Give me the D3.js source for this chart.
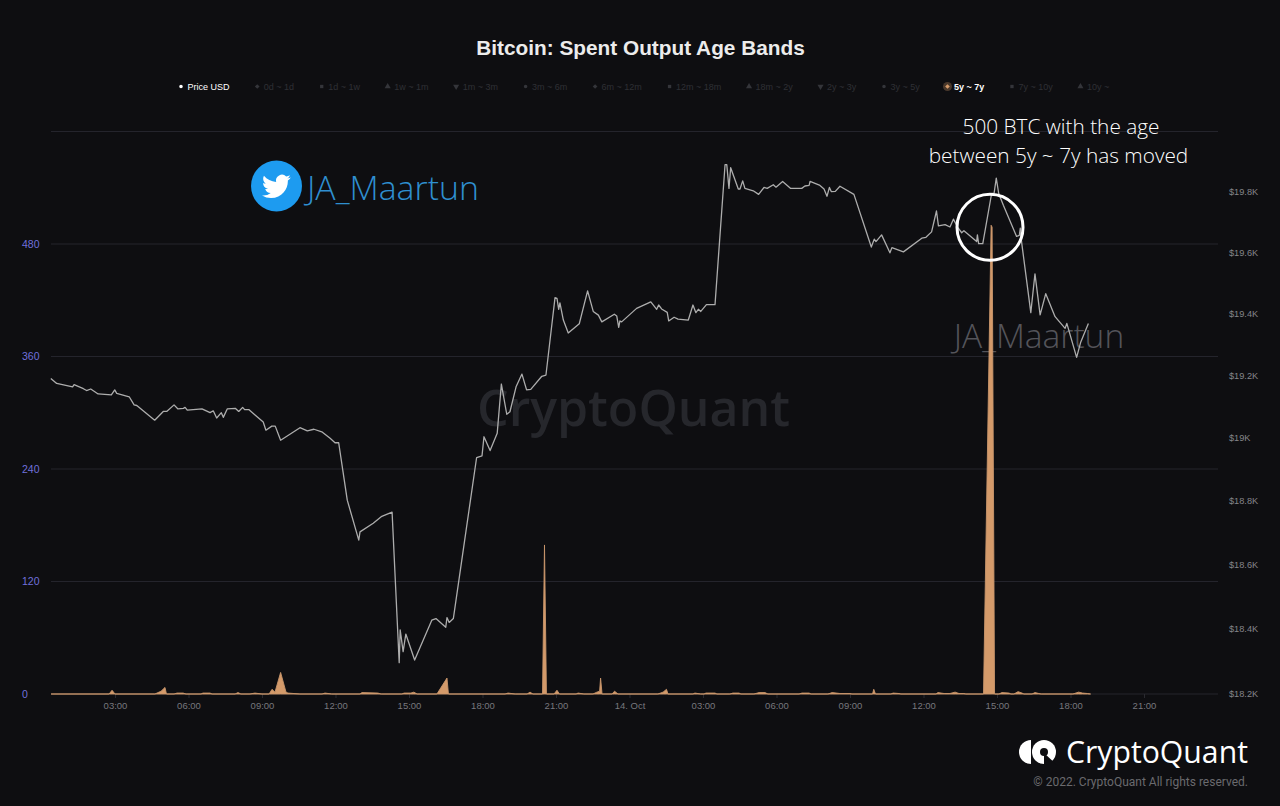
<!DOCTYPE html>
<html>
<head>
<meta charset="utf-8">
<script src="https://cdn.jsdelivr.net/npm/d3@7"></script>
<style>
html, body { margin: 0; padding: 0; background: #0e0e11; }
svg { display: block; }
</style>
</head>
<body>
<svg id="chart"></svg>
<script>
var width = 1280, height = 806;

// [hours since 13 Oct 00:00, BTC price in USD]
var priceSeries = [
  [.38,19190],[.62,19174],[1.27,19163],[1.33,19170],[1.71,19157],[1.84,19151],[2.01,19156],[2.31,19140],[2.85,19137],[2.99,19153],
  [3.07,19142],[3.58,19131],[3.78,19105],[3.89,19103],[4.62,19056],[4.97,19084],[5.11,19084],[5.41,19105],[5.57,19092],[5.79,19094],
  [5.86,19097],[5.95,19088],[6.55,19092],[6.88,19080],[7.01,19086],[7.15,19063],[7.34,19080],[7.42,19065],[7.58,19092],[7.91,19094],
  [8.05,19084],[8.21,19097],[8.29,19090],[8.46,19090],[9.05,19050],[9.16,19024],[9.40,19037],[9.54,19037],[9.76,18992],[10.55,19032],
  [10.85,19022],[11.12,19027],[11.44,19019],[11.78,18998],[11.98,18984],[12.13,18984],[12.48,18802],[12.95,18676],[13.0,18702],[13.54,18729],
  [13.89,18751],[14.31,18764],[14.60,18296],[14.64,18397],[14.76,18330],[14.87,18384],[15.23,18304],[15.93,18427],[16.10,18432],[16.50,18405],
  [16.55,18435],[16.64,18420],[16.81,18432],[17.76,18937],[17.98,18942],[18.06,19003],[18.31,18959],[18.60,19014],[18.77,19172],[18.99,19075],
  [19.12,19083],[19.37,19163],[19.61,19204],[19.80,19153],[19.97,19155],[20.42,19197],[20.59,19201],[20.96,19452],[21.04,19450],[21.11,19414],
  [21.16,19435],[21.30,19379],[21.50,19337],[21.95,19367],[22.29,19474],[22.52,19407],[22.73,19395],[22.87,19373],[23.38,19398],[23.48,19392],
  [23.56,19355],[23.61,19376],[23.68,19373],[24.29,19417],[24.87,19438],[25.11,19414],[25.19,19428],[25.31,19415],[25.54,19404],[25.60,19376],
  [25.82,19388],[25.98,19382],[26.40,19379],[26.59,19428],[26.71,19403],[26.81,19414],[26.91,19407],[27.14,19429],[27.49,19429],[27.90,19891],
  [27.97,19891],[28.06,19812],[28.13,19881],[28.44,19810],[28.51,19810],[28.62,19837],[28.71,19812],[29.05,19804],[29.27,19792],[29.49,19815],
  [29.62,19812],[29.87,19824],[29.98,19816],[30.25,19835],[30.58,19812],[31.03,19812],[31.16,19820],[31.33,19822],[31.37,19835],[31.75,19823],
  [31.94,19810],[32.06,19786],[32.16,19815],[32.24,19801],[32.40,19802],[32.59,19819],[33.16,19792],[33.87,19618],[33.99,19644],[34.06,19636],
  [34.29,19658],[34.63,19599],[34.71,19616],[35.18,19602],[35.93,19647],[36.10,19650],[36.33,19668],[36.53,19737],[36.61,19688],[36.88,19692],
  [37.08,19684],[37.22,19710],[37.42,19680],[37.56,19665],[37.65,19672],[38.17,19636],[38.20,19658],[38.25,19629],[38.42,19629],[38.78,19795],
  [38.88,19795],[38.97,19846],[39.07,19795],[39.26,19756],[39.80,19653],[39.91,19656],[39.95,19680],[39.99,19643],[40.38,19403],[40.55,19530],
  [40.76,19396],[40.99,19465],[41.37,19390],[41.78,19352],[41.85,19368],[42.25,19258],[42.42,19308],[42.73,19368]
];

// [hours, BTC spent from the 5y ~ 7y band]
var bandSeries = [
  [.39,0],[2.76,0],[2.88,4],[3.0,0],[4.63,0],[4.88,3],[5.04,7],[5.10,0],[5.41,0],[5.53,1],[5.78,1],[5.9,0],
  [6.51,0],[6.59,1],[6.88,1],[6.96,0],[7.9,0],[8.02,1.5],[8.14,0],[8.51,0],[8.71,1],[9,0],
  [9.29,0],[9.41,5],[9.53,2],[9.76,23],[9.98,2],[10.06,1],[10.55,0],[11.45,0],[11.57,1],[11.85,0],
  [13,0],[13.08,1.5],[13.73,1],[13.86,0],[14.71,0],[14.8,1],[15.08,1],[15.2,2],[15.33,0],
  [16.14,0],[16.55,17],[16.61,0],[18.92,0],[19.04,1],[19.33,0],[19.82,0],[19.94,2],[20.06,0],
  [20.45,0],[20.53,159],[20.61,0],[20.92,0],[21.04,4],[21.14,0],[21.82,0],[21.9,1],[22.14,0],
  [22.51,0],[22.67,2],[22.78,3],[22.82,17],[22.88,0],[23.29,0],[23.39,3],[23.53,0],
  [25.16,0],[25.37,2],[25.51,5],[25.57,0],[26.59,0],[26.67,1],[26.91,0],[27.04,0],[27.12,1],[27.49,1],[27.57,0],
  [28.1,0],[28.22,1],[28.47,1],[28.55,0],[29.08,0],[29.29,1.5],[29.53,1.5],[29.65,0],
  [30.92,0],[31.04,1],[31.33,1],[31.41,0],[32.1,0],[32.27,1.5],[32.59,.5],[33,.5],[33.08,0],
  [33.92,0],[33.97,5],[34.04,0],[34.67,0],[34.76,1],[35,.5],[35.08,0],
  [36.51,0],[36.59,1.5],[36.84,.5],[37.08,.5],[37.29,2],[37.45,.5],[37.65,.5],[37.73,0],
  [38.45,0],[38.76,500],[38.8,498],[38.9,0],[39.08,0],[39.2,1.5],[39.49,1],[39.57,0],
  [39.69,0],[39.86,2.5],[40.02,1],[40.1,0],[40.43,0],[40.55,1.5],[40.71,.5],[40.8,0],
  [42.1,0],[42.33,2],[42.49,1],[42.69,.5],[42.82,0]
];

var hourTicks = [3,6,9,12,15,18,21,24,27,30,33,36,39,42,45];
var hourLabels = ["03:00","06:00","09:00","12:00","15:00","18:00","21:00","14. Oct","03:00","06:00","09:00","12:00","15:00","18:00","21:00"];
var bandTicks = [0,120,240,360,480];
var gridTicks = [0,120,240,360,480,600];
var priceTicks = [18200,18400,18600,18800,19000,19200,19400,19600,19800];
var legendNames = ["Price USD","0d ~ 1d","1d ~ 1w","1w ~ 1m","1m ~ 3m","3m ~ 6m","6m ~ 12m","12m ~ 18m","18m ~ 2y","2y ~ 3y","3y ~ 5y","5y ~ 7y","7y ~ 10y","10y ~"];
var legendShapes = ["circle","diamond","square","up","down","circle","diamond","square","up","down","circle","diamond","square","up"];
var activeBands = ["Price USD","5y ~ 7y"];

var svg = d3.select("#chart")
    .attr("width", width)
    .attr("height", height)
    .style("background", "#0e0e11");

var x = d3.scaleLinear().domain([0, 48]).range([41.5, 1217.5]);
var yBand = d3.scaleLinear().domain([0, 600]).range([694, 131.5]);
var yPrice = d3.scaleLog().domain([18200, 19800]).range([694, 192]); // price axis is logarithmic

var sans = "'Liberation Sans', Arial, sans-serif";
var light = "'Open Sans', sans-serif";

// title
svg.append("text")
    .attr("x", 640.5).attr("y", 55)
    .attr("text-anchor", "middle")
    .style("font", "bold 20.8px " + sans)
    .style("fill", "#ececec")
    .text("Bitcoin: Spent Output Age Bands");

// legend, laid out left to right from the measured text widths
var legend = svg.append("g").attr("transform", "translate(0,86.5)");
var cursor = 181;
var shapes = {
    circle: d3.symbol().type(d3.symbolCircle).size(10)(),
    diamond: d3.symbol().type(d3.symbolDiamond2).size(14)(),
    square: d3.symbol().type(d3.symbolSquare).size(11)(),
    up: d3.symbol().type(d3.symbolTriangle).size(16)(),
    down: d3.symbol().type(d3.symbolTriangle).size(16)()
};
legendNames.forEach(function(name, i) {
    var on = activeBands.indexOf(name) >= 0;
    var peach = name === "5y ~ 7y";
    if (peach) {
        legend.append("circle").attr("cx", cursor).attr("r", 4.5).attr("fill", "#d49a6a").attr("opacity", 0.3);
    }
    legend.append("path")
        .attr("d", shapes[legendShapes[i]])
        .attr("transform", "translate(" + cursor + ",0)" + (legendShapes[i] === "down" ? " rotate(180)" : ""))
        .attr("fill", peach ? "#d49a6a" : (on ? "#ffffff" : "#34353a"));
    var label = legend.append("text")
        .attr("x", cursor + 6.5).attr("y", 3.2)
        .style("font", (peach ? "bold " : "") + "9px " + sans)
        .style("fill", on ? "#ffffff" : "#2f3035")
        .text(name);
    cursor += 6.5 + label.node().getComputedTextLength() + 27.7;
});

// grid
svg.append("g").selectAll("line")
    .data(gridTicks)
    .join("line")
    .attr("x1", 51).attr("x2", 1218)
    .attr("y1", d => yBand(d)).attr("y2", d => yBand(d))
    .attr("stroke", "#24242c")
    .attr("stroke-width", 1);

// left axis, labels start at the same x
var leftAxis = svg.append("g")
    .attr("transform", "translate(22,0)")
    .call(d3.axisRight(yBand).tickValues(bandTicks).tickSize(0).tickPadding(0));
leftAxis.select(".domain").remove();
leftAxis.selectAll("text")
    .style("font", "10.5px " + sans)
    .style("fill", "#7070dc");

// right axis
var rightAxis = svg.append("g")
    .attr("transform", "translate(1229,0)")
    .call(d3.axisRight(yPrice).tickValues(priceTicks).tickSize(0).tickPadding(0)
        .tickFormat(d => "$" + (d / 1000) + "K"));
rightAxis.select(".domain").remove();
rightAxis.selectAll("text")
    .style("font", "9.2px " + sans)
    .style("fill", "#85858a");

// bottom axis
var bottomAxis = svg.append("g")
    .attr("transform", "translate(0,694)")
    .call(d3.axisBottom(x).tickValues(hourTicks).tickSize(4).tickPadding(4)
        .tickFormat((d, i) => hourLabels[i]));
bottomAxis.select(".domain").remove();
bottomAxis.selectAll("line").attr("stroke", "#2a2a30");
bottomAxis.selectAll("text")
    .style("font", "9.5px " + sans)
    .style("fill", "#77777d");

// watermarks
svg.append("text")
    .attr("x", 633.5).attr("y", 426)
    .attr("text-anchor", "middle")
    .style("font", "600 50px " + light)
    .style("fill", "#26272c")
    .text("CryptoQuant");

svg.append("text")
    .attr("x", 1039).attr("y", 348)
    .attr("text-anchor", "middle")
    .style("font", "300 33.5px " + light)
    .style("fill", "#54545a")
    .text("JA_Maartun");

// spent output area
var area = d3.area()
    .x(d => x(d[0]))
    .y0(yBand(0))
    .y1(d => yBand(d[1]));
svg.append("path")
    .datum(bandSeries)
    .attr("d", area)
    .attr("fill", "#d49a6a")
    .attr("stroke", "#c9966c")
    .attr("stroke-width", 0.9);

// price line
var line = d3.line()
    .x(d => x(d[0]))
    .y(d => yPrice(d[1]));
svg.append("path")
    .datum(priceSeries)
    .attr("d", line)
    .attr("fill", "none")
    .attr("stroke", "#adadad")
    .attr("stroke-width", 1.3)
    .attr("stroke-linejoin", "round");

// annotation
svg.append("circle")
    .attr("cx", 990).attr("cy", 227.3).attr("r", 33)
    .attr("fill", "none")
    .attr("stroke", "#ffffff")
    .attr("stroke-width", 3);
svg.append("text")
    .attr("x", 1061).attr("y", 134)
    .attr("text-anchor", "middle")
    .style("font", "300 20.8px " + light)
    .style("fill", "#ffffff")
    .text("500 BTC with the age");
svg.append("text")
    .attr("x", 1058.5).attr("y", 163)
    .attr("text-anchor", "middle")
    .style("font", "300 20.8px " + light)
    .style("fill", "#ffffff")
    .text("between 5y ~ 7y has moved");

// twitter badge
var badge = svg.append("g").attr("transform", "translate(276.5,186)");
badge.append("circle").attr("r", 25.5).attr("fill", "#1d9bf0");
badge.append("path")
    .attr("transform", "translate(-14.5,-14) scale(1.2)")
    .attr("fill", "#ffffff")
    .attr("d", "M23.953 4.57a10 10 0 01-2.825.775 4.958 4.958 0 002.163-2.723c-.951.555-2.005.959-3.127 1.184a4.92 4.92 0 00-8.384 4.482C7.69 8.095 4.067 6.13 1.64 3.162a4.822 4.822 0 00-.666 2.475c0 1.71.87 3.213 2.188 4.096a4.904 4.904 0 01-2.228-.616v.06a4.923 4.923 0 003.946 4.827 4.996 4.996 0 01-2.212.085 4.936 4.936 0 004.604 3.417 9.867 9.867 0 01-6.102 2.105c-.39 0-.779-.023-1.17-.067a13.995 13.995 0 007.557 2.209c9.053 0 13.998-7.496 13.998-13.985 0-.21 0-.42-.015-.63A9.935 9.935 0 0024 4.59z");
svg.append("text")
    .attr("x", 307).attr("y", 200)
    .style("font", "300 33.8px " + light)
    .style("fill", "#2f8fd0")
    .text("JA_Maartun");

// logo
var logo = svg.append("g").attr("transform", "translate(1031,752)");
logo.append("path")
    .attr("fill", "#ffffff")
    .attr("d", d3.arc().innerRadius(0).outerRadius(12)({startAngle: Math.PI, endAngle: 2 * Math.PI}));
logo.append("circle").attr("cx", 13).attr("r", 12).attr("fill", "#ffffff");
logo.append("circle").attr("cx", 13).attr("r", 4).attr("fill", "#0e0e11");
logo.append("path").attr("fill", "#0e0e11").attr("d", "M13 1L27 14L13 14Z");
svg.append("text")
    .attr("x", 1066).attr("y", 763)
    .style("font", "400 30.2px " + light)
    .style("fill", "#ffffff")
    .text("CryptoQuant");
svg.append("text")
    .attr("x", 1248).attr("y", 786)
    .attr("text-anchor", "end")
    .style("font", "12px Roboto, sans-serif")
    .style("fill", "#6a6a6e")
    .text("© 2022. CryptoQuant All rights reserved.");
</script>
</body>
</html>
